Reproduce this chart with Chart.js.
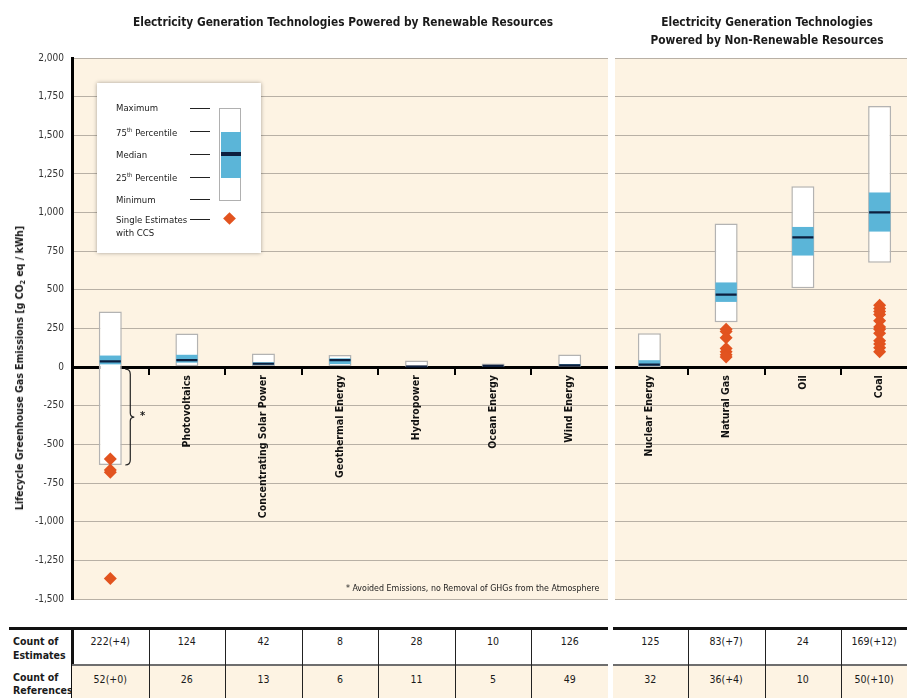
<!DOCTYPE html>
<html><head><meta charset="utf-8">
<script src="https://cdn.jsdelivr.net/npm/chart.js@4"></script>
<style>
html,body{margin:0;padding:0;width:907px;height:698px;overflow:hidden;background:#fff;}
body{position:relative;font-family:'Liberation Sans Narrow','DejaVu Sans Condensed','Open Sans',sans-serif;color:#1a1a1a;}
.abs{position:absolute;}
canvas{position:absolute;top:0;}
.title{position:absolute;font-weight:bold;font-size:11.8px;text-align:center;line-height:18px;white-space:nowrap;transform:translateX(-50%);}
.lg{position:absolute;font-size:9.5px;white-space:nowrap;transform:translateY(-50%);}
.lgline{position:absolute;height:1px;background:#222;width:20px;}
.cell{position:absolute;text-align:center;font-size:10.5px;}
.vl{position:absolute;width:1px;background:#222;}
</style></head><body>
<canvas id="c1" width="608" height="620" style="left:0"></canvas>
<canvas id="c2" width="307" height="620" style="left:611px"></canvas>
<div class="abs" style="left:608px;top:50px;width:7px;height:560px;background:#fff;"></div>

<div class="title" style="left:343px;top:13px;">Electricity Generation Technologies Powered by Renewable Resources</div>
<div class="title" style="left:767px;top:13px;">Electricity Generation Technologies<br>Powered by Non-Renewable Resources</div>

<div class="abs" style="left:20px;top:368px;transform:translate(-50%,-50%) rotate(-90deg);white-space:nowrap;font-weight:bold;font-size:10.5px;">Lifecycle Greenhouse Gas Emissions [g CO<sub style="font-size:7px;vertical-align:-2px;">2</sub> eq / kWh]</div>

<div id="legend" class="abs" style="left:97px;top:83px;width:164px;height:170px;background:#fff;box-shadow:0 0 4px rgba(0,0,0,0.35);">
  <div class="lg" style="left:19px;top:24px;">Maximum</div>
  <div class="lg" style="left:19px;top:48.5px;">75<sup style="font-size:6px;">th</sup> Percentile</div>
  <div class="lg" style="left:19px;top:71px;">Median</div>
  <div class="lg" style="left:19px;top:94px;">25<sup style="font-size:6px;">th</sup> Percentile</div>
  <div class="lg" style="left:19px;top:116px;">Minimum</div>
  <div class="lg" style="left:19px;top:143px;line-height:13px;">Single Estimates<br>with CCS</div>
  <div class="lgline" style="left:93px;top:25px;"></div>
  <div class="lgline" style="left:93px;top:48px;"></div>
  <div class="lgline" style="left:93px;top:71px;"></div>
  <div class="lgline" style="left:93px;top:94px;"></div>
  <div class="lgline" style="left:93px;top:116px;"></div>
  <div class="lgline" style="left:93px;top:136px;"></div>
  <div class="abs" style="left:122px;top:25px;width:20px;height:91px;border:1.5px solid #b0b0b0;background:#fff;"></div>
  <div class="abs" style="left:123.5px;top:49px;width:20px;height:46px;background:#5bb5d8;"></div>
  <div class="abs" style="left:123.5px;top:68.5px;width:20px;height:4px;background:#0d1f3e;"></div>
  <div class="abs" style="left:128px;top:131px;width:9px;height:9px;background:#e2531f;transform:rotate(45deg);"></div>
</div>

<div class="abs" style="left:140px;top:409px;font-size:11px;font-weight:bold;">*</div>
<div class="abs" style="left:346px;top:583px;font-size:8.8px;white-space:nowrap;">* Avoided Emissions, no Removal of GHGs from the Atmosphere</div>

<div id="table"></div>

<script>
const FONT = "'Liberation Sans Narrow','DejaVu Sans Condensed','Open Sans',sans-serif";

// Renewable technologies: min / 25th / median / 75th / max  (g CO2eq/kWh)
const renewCats = ["Biopower","Photovoltaics","Concentrating Solar Power","Geothermal Energy","Hydropower","Ocean Energy","Wind Energy"];
const renewMin = [-633, 5, 7, 6, 0, 2, 2];
const renewQ25 = [18, 29, 14, 20, 3, 6, 8];
const renewMedian = [37, 46, 22, 45, 4, 8, 12];
const renewQ75 = [75, 80, 32, 57, 7, 9, 20];
const renewMax = [360, 217, 89, 79, 43, 23, 81];

// Non-renewable technologies
const nonRenewCats = ["Nuclear Energy","Natural Gas","Oil","Coal"];
const nonRenewMin = [1, 290, 510, 675];
const nonRenewQ25 = [8, 422, 722, 877];
const nonRenewMedian = [16, 469, 840, 1001];
const nonRenewQ75 = [45, 548, 907, 1130];
const nonRenewMax = [220, 930, 1170, 1689];

// Single estimates with CCS
const ccsBiopower = [-594, -665, -680, -1368];
const ccsNaturalGas = [245, 230, 190, 120, 100, 80, 65];
const ccsCoal = [400, 380, 360, 340, 300, 260, 245, 220, 170, 150, 125, 100];

const yTicks = [2000, 1750, 1500, 1250, 1000, 750, 500, 250, 0, -250, -500, -750, -1000, -1250, -1500];

// Table
const renewEstimates = ["222(+4)","124","42","8","28","10","126"];
const renewReferences = ["52(+0)","26","13","6","11","5","49"];
const nonRenewEstimates = ["125","83(+7)","24","169(+12)"];
const nonRenewReferences = ["32","36(+4)","10","50(+10)"];

const bgPlugin = {
  id: 'bg',
  beforeDraw(chart, args, opts) {
    const {ctx, chartArea: a} = chart;
    ctx.save();
    ctx.fillStyle = opts.color || '#fdf3e3';
    ctx.fillRect(a.left, a.top, a.right - a.left, a.bottom - a.top);
    ctx.restore();
  }
};

const bracketPlugin = {
  id: 'bracket',
  afterDatasetsDraw(chart, args, opts) {
    if (!opts.enabled) return;
    const {ctx} = chart;
    const xs = chart.scales.x, ys = chart.scales.y;
    const x = xs.getPixelForValue(0) + 20;
    const y0 = ys.getPixelForValue(0) + 2;
    const y1 = ys.getPixelForValue(renewMin[0]);
    const ym = (y0 + y1) / 2;
    ctx.save();
    ctx.strokeStyle = '#222';
    ctx.lineWidth = 1.2;
    ctx.beginPath();
    ctx.moveTo(x - 5, y0);
    ctx.quadraticCurveTo(x, y0, x, y0 + 5);
    ctx.lineTo(x, ym - 4);
    ctx.quadraticCurveTo(x, ym, x + 4, ym);
    ctx.quadraticCurveTo(x, ym, x, ym + 4);
    ctx.lineTo(x, y1 - 5);
    ctx.quadraticCurveTo(x, y1, x - 5, y1);
    ctx.stroke();
    ctx.restore();
  }
};

function makeChart(id, cats, mn, q1, md, q3, mx, ccs, showY) {
  const ccsPoints = [];
  ccs.forEach(([cat, arr]) => arr.forEach(v => ccsPoints.push({x: cat, y: v})));
  return new Chart(document.getElementById(id), {
    type: 'bar',
    plugins: [bgPlugin, bracketPlugin],
    data: {
      labels: cats,
      datasets: [
        {type: 'bar', data: cats.map((c, i) => [mn[i], mx[i]]), backgroundColor: '#ffffff',
         borderColor: '#b3b3b3', borderWidth: 1.5, borderSkipped: false, grouped: false,
         barPercentage: 0.3, categoryPercentage: 1, order: 3},
        {type: 'bar', data: cats.map((c, i) => [q1[i], q3[i]]), backgroundColor: '#5bb5d8',
         borderWidth: 0, grouped: false, barPercentage: 0.28, categoryPercentage: 1, order: 2},
        {type: 'line', data: md, showLine: false, pointStyle: 'line', pointRadius: 10.5,
         pointBorderColor: '#0d1f3e', pointBorderWidth: 2.2, order: 1},
        {type: 'line', data: ccsPoints, showLine: false, pointStyle: 'rectRot', pointRadius: 6.5,
         pointBackgroundColor: '#e2531f', pointBorderColor: '#e2531f', pointBorderWidth: 0, order: 0}
      ]
    },
    options: {
      responsive: false, animation: false, events: [],
      layout: {autoPadding: false, padding: {top: 58, bottom: 21, left: 0, right: 0}},
      plugins: {legend: {display: false}, tooltip: {enabled: false},
        bg: {color: '#fdf3e3'}, bracket: {enabled: showY}},
      scales: {
        x: {type: 'category', position: {y: 0}, offset: true, z: 1,
          grid: {offset: true, drawOnChartArea: false, drawTicks: true, tickLength: 6, lineWidth: 2,
            color: c => (c.index === undefined || c.index === 0) ? 'rgba(0,0,0,0)' : '#000'},
          border: {display: true, color: '#000', width: 3},
          ticks: {minRotation: 90, maxRotation: 90, autoSkip: false, padding: 2, color: '#111',
            font: {family: FONT, size: 10.5, weight: 'bold'}},
          afterFit(s) { s.height = 0; s.paddingLeft = 0; s.paddingRight = 0; }},
        y: {min: -1500, max: 2000,
          afterBuildTicks(s) { s.ticks = yTicks.map(v => ({value: v})); },
          grid: {color: '#b8b0a5', lineWidth: 1, drawTicks: false},
          border: {display: showY, color: '#000', width: 3},
          ticks: {display: showY, padding: 8, color: '#333', font: {family: FONT, size: 10},
            callback: v => v.toLocaleString('en-US')},
          afterFit(s) { s.width = showY ? 72 : 0; }}
      }
    }
  });
}

const ch1 = makeChart('c1', renewCats, renewMin, renewQ25, renewMedian, renewQ75, renewMax,
  [["Biopower", ccsBiopower]], true);
const ch2 = makeChart('c2', nonRenewCats, nonRenewMin, nonRenewQ25, nonRenewMedian, nonRenewQ75, nonRenewMax,
  [["Natural Gas", ccsNaturalGas], ["Coal", ccsCoal]], false);

// Build the count table aligned with category boundaries
(function buildTable() {
  const T = document.getElementById('table');
  const add = (html, style, cls) => { const d = document.createElement('div'); d.className = cls || 'abs'; d.setAttribute('style', style); d.innerHTML = html; T.appendChild(d); };
  const top = 627, r1 = 630, div = 664, r2 = 666, bot = 698;
  function edges(chart, offset, n) {
    const xs = chart.scales.x; const w = xs.getPixelForValue(1) - xs.getPixelForValue(0);
    const e = [];
    for (let i = 0; i <= n; i++) e.push(offset + xs.getPixelForValue(0) - w / 2 + i * w);
    return e;
  }
  const eL = edges(ch1, 0, renewCats.length);
  const eR = edges(ch2, 611, nonRenewCats.length);
  eR[0] = 613;
  add('', `left:9px;top:${top}px;width:${eL[eL.length-1]-9}px;height:3px;background:#111;`);
  add('', `left:613px;top:${top}px;width:${907-613}px;height:3px;background:#111;`);
  add('Count of<br>Estimates', `left:13px;top:${r1+4}px;font-size:10.5px;font-weight:bold;line-height:14px;`);
  add('Count of<br>References', `left:13px;top:${r2+5}px;font-size:10.5px;font-weight:bold;line-height:13px;`);
  add('', `left:${eL[0]-1}px;top:${r1}px;width:2.5px;height:${bot-r1}px;background:#111;`);
  function group(e, est, ref, rightEnd) {
    const n = est.length;
    for (let i = 0; i < n; i++) {
      const l = e[i], r = (i === n - 1 && rightEnd) ? rightEnd : e[i + 1];
      add('', `left:${l}px;top:${r2}px;width:${r - l}px;height:${bot - r2}px;background:#fdf3e3;`);
      add('', `left:${l}px;top:${div}px;width:${r - l}px;height:2px;background:#6e6e6e;`);
      add(est[i], `left:${l}px;top:${r1 + 4}px;width:${r - l}px;line-height:14px;`, 'cell');
      add(ref[i], `left:${l}px;top:${r2 + 6}px;width:${r - l}px;line-height:14px;`, 'cell');
      if (i > 0) add('', `left:${l}px;top:${r1}px;height:${bot - r1}px;`, 'vl');
    }
  }
  group(eL, renewEstimates, renewReferences, null);
  group(eR, nonRenewEstimates, nonRenewReferences, 907);
})();
</script>
</body></html>
